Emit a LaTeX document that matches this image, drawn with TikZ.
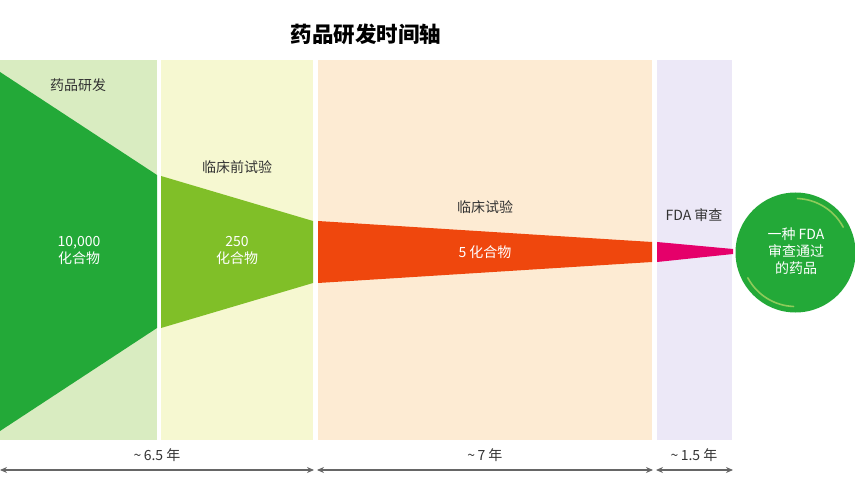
\documentclass[tikz,border=0pt]{standalone}
\usepackage{fontspec}
\setmainfont{Noto Sans CJK SC}
\usetikzlibrary{arrows.meta}
\definecolor{bgA}{HTML}{D9ECC1}
\definecolor{bgB}{HTML}{F6F8D1}
\definecolor{bgC}{HTML}{FDEBD3}
\definecolor{bgD}{HTML}{ECE8F7}
\definecolor{gA}{HTML}{23A938}
\definecolor{gB}{HTML}{80BF28}
\definecolor{rC}{HTML}{EF470D}
\definecolor{pD}{HTML}{E5006A}
\definecolor{hl}{HTML}{8DCB5A}
\definecolor{txt}{HTML}{333333}
\definecolor{arr}{HTML}{666666}
\tikzset{
  lbl/.style={text=txt, font=\fontsize{14}{16}\selectfont, inner sep=0pt},
  inlbl/.style={text=white, font=\fontsize{14}{17}\selectfont, align=center, inner sep=0pt},
  dur/.style={draw=arr, line width=1.1pt, {Stealth[length=7pt,width=6pt]}-{Stealth[length=7pt,width=6pt]}},
}
\begin{document}
\begin{tikzpicture}[x=1pt,y=-1pt]
\useasboundingbox (0,0) rectangle (855,500);
% column backgrounds
\fill[bgA] (0,60) rectangle (157,440);
\fill[bgB] (161,60) rectangle (313,440);
\fill[bgC] (318,60) rectangle (652,440);
\fill[bgD] (657,60) rectangle (732,440);
% funnel shapes
\fill[gA] (0,72) -- (157,175) -- (157,328) -- (0,431) -- cycle;
\fill[gB] (161,176) -- (313,221) -- (313,283) -- (161,328) -- cycle;
\fill[rC] (318,221) -- (652,242) -- (652,262) -- (318,283) -- cycle;
\fill[pD] (657,242) -- (733,249) -- (733,254) -- (657,262) -- cycle;
% final circle
\fill[gA] (795.5,252.5) circle (60);
\draw[hl, line width=1.6pt, line cap=round] (795.5,252.5) ++(152:54) arc (152:92:54);
\draw[hl, line width=1.6pt, line cap=round] (795.5,252.5) ++(-28:54) arc (-28:-88:54);
% title
\node[text=black, font=\fontsize{21.5}{26}\selectfont\bfseries, inner sep=0pt] (title) at (366,34) {药品研发时间轴};
% stage labels
\node[lbl] (s1) at (78,85) {药品研发};
\node[lbl] (s2) at (237,167) {临床前试验};
\node[lbl] (s3) at (485,207) {临床试验};
\node[lbl] (s4) at (694,215) {FDA 审查};
% inner labels
\node[inlbl] (c1) at (79,250) {10,000\\化合物};
\node[inlbl] (c2) at (237,250) {250\\化合物};
\node[inlbl] (c3) at (485,252) {5 化合物};
\node[inlbl] (c4) at (796,251) {一种 FDA\\审查通过\\的药品};
% durations
\coordinate (a1) at (0,470);
\coordinate (b1) at (314,470);
\coordinate (a2) at (317,470);
\coordinate (b2) at (653,470);
\coordinate (a3) at (656,470);
\coordinate (b3) at (733,470);
\draw[dur] (a1) -- (b1);
\draw[dur] (a2) -- (b2);
\draw[dur] (a3) -- (b3);
\node[lbl] (d1) at (157,455) {\textasciitilde\,6.5 年};
\node[lbl] (d2) at (485,455) {\textasciitilde\,7 年};
\node[lbl] (d3) at (694,455) {\textasciitilde\,1.5 年};
\end{tikzpicture}
\end{document}
